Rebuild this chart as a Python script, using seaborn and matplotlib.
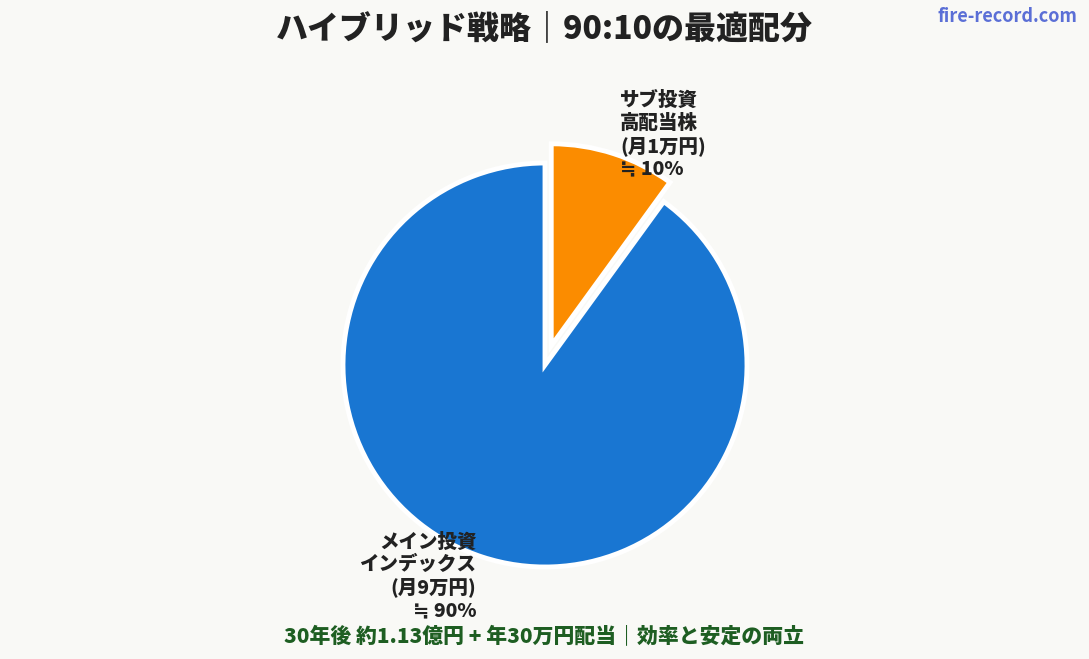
import matplotlib
matplotlib.use("Agg")
import matplotlib.pyplot as plt
import seaborn as sns

sns.set_theme(style="white")
plt.rcParams['font.family'] = ['Noto Sans CJK JP', 'DejaVu Sans']

# Data
categories = ["サブ投資\n高配当株\n(月1万円)", "メイン投資\nインデックス\n(月9万円)"]
shares = ["≒ 10%", "≒ 90%"]
values = [10, 90]
colors = ["#FB8C00", "#1976D2"]
explode = [0.1, 0.0]

title = "ハイブリッド戦略｜90:10の最適配分"
footer = "30年後 約1.13億円 + 年30万円配当｜効率と安定の両立"
watermark = "fire-record.com"

bg = "#F9F9F6"
fig = plt.figure(figsize=(10.89, 6.59), dpi=100, facecolor=bg)

R = 202.0
W, H = 1089.0, 659.0
cx, cy = 545.0, 365.0
lim = 1.5
aw = 2 * lim * R
ax = fig.add_axes([cx / W - aw / 2 / W, (H - cy) / H - aw / 2 / H, aw / W, aw / H])
ax.set_facecolor(bg)

labels = [c + "\n" + s for c, s in zip(categories, shares)]
wedges, texts = ax.pie(
    values, labels=labels, colors=colors, explode=explode,
    startangle=90, counterclock=False, labeldistance=1.1,
    wedgeprops=dict(edgecolor="white", linewidth=3.5),
    textprops=dict(fontsize=14, fontweight="heavy", color="#222222", linespacing=1.22),
)
ax.set_xlim(-lim, lim)
ax.set_ylim(-lim, lim)
ax.set_aspect("equal")
ax.axis("off")

fig.text(0.5, 1 - 28 / H, title, ha="center", va="center", fontsize=23,
         fontweight="heavy", color="#222222")
fig.text(1077 / W, 1 - 16 / H, watermark, ha="right", va="center", fontsize=13,
         fontweight="bold", color="#5B6FD6")
fig.text(0.5, 1 - 637 / H, footer, ha="center", va="center", fontsize=15,
         fontweight="heavy", color="#1E5E22")

fig.savefig("out.png", dpi=100, facecolor=bg)
